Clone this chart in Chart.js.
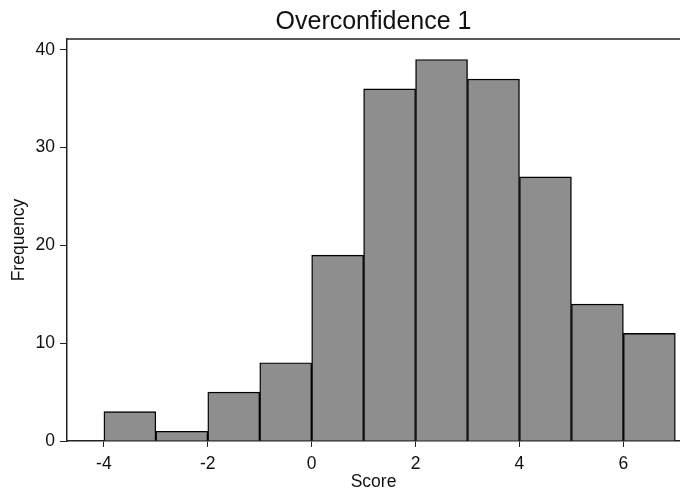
<!DOCTYPE html>
<html>
<head>
<meta charset="utf-8">
<script src="https://cdn.jsdelivr.net/npm/chart.js@4/dist/chart.umd.min.js"></script>
<style>
  html, body { margin: 0; padding: 0; background: #ffffff; }
  #wrap { width: 680px; height: 495px; }
</style>
</head>
<body>
<div id="wrap"><canvas id="c" width="680" height="495"></canvas></div>
<script>
// Histogram bins (left edges, width 1) and frequencies
const binStarts = [-4, -3, -2, -1, 0, 1, 2, 3, 4, 5, 6];
const binWidth = 1;
const frequencies = [3, 1, 5, 8, 19, 36, 39, 37, 27, 14, 11];
const xTickValues = [-4, -2, 0, 2, 4, 6];
const yTickValues = [0, 10, 20, 30, 40];
const chartTitle = 'Overconfidence 1';
const xTitle = 'Score';
const yTitle = 'Frequency';

const points = binStarts.map((s, i) => ({ x: s + binWidth / 2, y: frequencies[i] }));

const FONT = '"Liberation Sans", Arial, Helvetica, sans-serif';
const INK = '#111111';
const AXIS = '#222222';

const topLine = {
  id: 'topLine',
  afterDraw(chart) {
    const { ctx, chartArea } = chart;
    ctx.save();
    ctx.strokeStyle = AXIS;
    ctx.lineWidth = 1.5;
    ctx.beginPath();
    ctx.moveTo(chartArea.left - 0.75, chartArea.top);
    ctx.lineTo(chartArea.right, chartArea.top);
    ctx.stroke();
    ctx.restore();
  }
};

new Chart(document.getElementById('c'), {
  type: 'bar',
  data: {
    datasets: [{
      data: points,
      backgroundColor: '#8e8e8e',
      borderColor: '#000000',
      borderWidth: 1.4,
      borderSkipped: 'start',
      barPercentage: 1,
      categoryPercentage: 1
    }]
  },
  plugins: [topLine],
  options: {
    responsive: false,
    animation: false,
    layout: { padding: { left: 0, right: 0, top: 0, bottom: 0 } },
    plugins: {
      legend: { display: false },
      tooltip: { enabled: false },
      title: {
        display: true,
        text: chartTitle,
        fullSize: false,
        color: INK,
        font: { family: FONT, size: 25, weight: 'normal' },
        padding: { top: 7, bottom: 2 }
      }
    },
    scales: {
      x: {
        type: 'linear',
        offset: false,
        min: -4.71,
        max: 7.09,
        afterFit(scale) { scale.height = 54; },
        afterBuildTicks(scale) { scale.ticks = xTickValues.map(v => ({ value: v })); },
        grid: { offset: false, drawOnChartArea: false, drawTicks: true, tickLength: 6, color: AXIS, lineWidth: 1 },
        border: { display: true, color: AXIS, width: 1.5 },
        ticks: { color: INK, font: { family: FONT, size: 17.5 }, padding: 7, maxRotation: 0, autoSkip: false },
        title: { display: true, text: xTitle, color: INK, font: { family: FONT, size: 17.5 }, padding: { top: 0, bottom: 2 } }
      },
      y: {
        type: 'linear',
        min: 0,
        max: 41.1,
        afterFit(scale) { scale.width = 67; },
        afterBuildTicks(scale) { scale.ticks = yTickValues.map(v => ({ value: v })); },
        grid: { drawOnChartArea: false, drawTicks: true, tickLength: 7, color: AXIS, lineWidth: 1 },
        border: { display: true, color: AXIS, width: 1.5 },
        ticks: { color: INK, font: { family: FONT, size: 17.5 }, padding: 5 },
        title: { display: true, text: yTitle, color: INK, font: { family: FONT, size: 17.5 }, padding: { top: 9, bottom: 0 } }
      }
    }
  }
});
</script>
</body>
</html>
